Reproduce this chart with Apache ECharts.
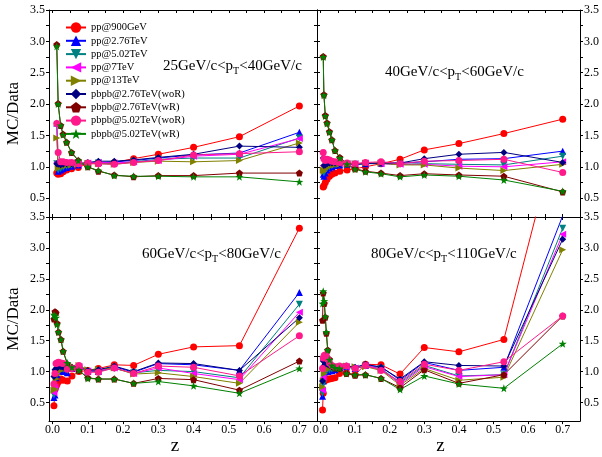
<!DOCTYPE html>
<html>
<head>
<meta charset="utf-8">
<script src="https://cdn.jsdelivr.net/npm/echarts@6/dist/echarts.min.js"></script>
<style>
html, body { margin: 0; padding: 0; background: #fff; }
#main { width: 602px; height: 457px; }
</style>
</head>
<body>
<div id="main"></div>
<script>
// series names, in the legend's order
var seriesNames = ['pp@900GeV', 'pp@2.76TeV', 'pp@5.02TeV', 'pp@7TeV', 'pp@13TeV',
  'pbpb@2.76TeV(woR)', 'pbpb@2.76TeV(wR)', 'pbpb@5.02TeV(woR)', 'pbpb@5.02TeV(wR)'];

// panel labels
var panelLabels = ['25GeV/c<p{t|T}<40GeV/c', '40GeV/c<p{t|T}<60GeV/c',
  '60GeV/c<p{t|T}<80GeV/c', '80GeV/c<p{t|T}<110GeV/c'];

// tick labels
var xLabels = [0, 0.1, 0.2, 0.3, 0.4, 0.5, 0.6, 0.7];
var yLabels = [0.5, 1.0, 1.5, 2.0, 2.5, 3.0, 3.5];

// z values of each panel
var zTL = [0.012, 0.016, 0.023, 0.03, 0.04, 0.054, 0.073, 0.1, 0.13, 0.175, 0.23, 0.3, 0.4, 0.53, 0.7];
var zTR = [0.008, 0.01, 0.014, 0.019, 0.026, 0.033, 0.042, 0.056, 0.077, 0.1, 0.13, 0.175, 0.23, 0.3, 0.4, 0.53, 0.7];
var zBL = [0.004, 0.007, 0.01, 0.013, 0.017, 0.024, 0.03, 0.042, 0.055, 0.075, 0.1, 0.13, 0.175, 0.23, 0.3, 0.4, 0.53, 0.7];
var zBR = [0.006, 0.008, 0.011, 0.014, 0.017, 0.021, 0.026, 0.033, 0.042, 0.055, 0.075, 0.1, 0.13, 0.175, 0.23, 0.3, 0.4, 0.53, 0.7];

// MC/Data, 25 < pT < 40 GeV/c (rows in seriesNames order)
var ratioTL = [
  [0.90, 0.88, 0.89, 0.92, 0.95, 0.97, 0.99, 1.05, 1.05, 1.07, 1.13, 1.20, 1.31, 1.48, 1.97],
  [1.70, 0.93, 0.95, 0.97, 0.99, 1.01, 1.03, 1.05, 1.07, 1.08, 1.10, 1.14, 1.19, 1.22, 1.55],
  [1.05, 0.95, 0.97, 0.99, 1.01, 1.03, 1.04, 1.05, 1.06, 1.05, 1.08, 1.12, 1.14, 1.14, 1.46],
  [1.07, 1.05, 1.06, 1.07, 1.07, 1.06, 1.05, 1.06, 1.07, 1.06, 1.08, 1.10, 1.17, 1.20, 1.45],
  [1.46, 0.98, 1.00, 1.01, 1.02, 1.03, 1.04, 1.05, 1.05, 1.04, 1.07, 1.09, 1.08, 1.10, 1.38],
  [1.05, 1.04, 1.03, 1.04, 1.05, 1.05, 1.05, 1.07, 1.09, 1.09, 1.11, 1.15, 1.20, 1.33, 1.31],
  [2.95, 2.01, 1.66, 1.52, 1.39, 1.23, 1.10, 1.00, 0.93, 0.87, 0.84, 0.86, 0.86, 0.90, 0.90],
  [1.69, 1.23, 1.08, 1.08, 1.07, 1.07, 1.05, 1.06, 1.05, 1.04, 1.07, 1.10, 1.19, 1.21, 1.24],
  [2.92, 2.00, 1.66, 1.51, 1.39, 1.23, 1.10, 1.00, 0.94, 0.86, 0.85, 0.85, 0.84, 0.84, 0.76]
];

// MC/Data, 40 < pT < 60 GeV/c
var ratioTR = [
  [0.68, 0.70, 0.75, 0.80, 0.85, 0.88, 0.90, 0.93, 0.95, 0.97, 1.00, 1.05, 1.12, 1.27, 1.37, 1.53, 1.76],
  [0.88, 0.85, 0.90, 0.95, 0.98, 1.00, 1.02, 1.03, 1.04, 1.04, 1.05, 1.06, 1.06, 1.08, 1.12, 1.13, 1.25],
  [0.92, 0.90, 0.95, 0.98, 1.00, 1.02, 1.03, 1.04, 1.04, 1.04, 1.05, 1.05, 1.04, 1.05, 1.04, 1.03, 1.17],
  [1.02, 1.00, 1.03, 1.05, 1.07, 1.06, 1.05, 1.05, 1.05, 1.05, 1.06, 1.05, 1.04, 1.04, 1.01, 1.00, 1.08],
  [0.95, 0.93, 0.96, 0.99, 1.01, 1.02, 1.03, 1.04, 1.05, 1.05, 1.06, 1.06, 1.03, 1.03, 0.98, 0.94, 1.04],
  [1.14, 1.02, 1.03, 1.05, 1.06, 1.06, 1.06, 1.05, 1.05, 1.04, 1.05, 1.06, 1.06, 1.13, 1.20, 1.23, 1.07],
  [2.76, 2.15, 1.82, 1.70, 1.56, 1.43, 1.26, 1.15, 1.05, 0.97, 0.93, 0.90, 0.86, 0.89, 0.87, 0.85, 0.60],
  [1.23, 1.13, 1.10, 1.12, 1.11, 1.09, 1.08, 1.07, 1.06, 1.05, 1.07, 1.08, 1.05, 1.09, 1.10, 1.12, 0.91],
  [2.75, 2.14, 1.81, 1.69, 1.55, 1.43, 1.26, 1.14, 1.04, 0.96, 0.92, 0.89, 0.84, 0.87, 0.85, 0.79, 0.61]
];

// MC/Data, 60 < pT < 80 GeV/c
var ratioBL = [
  [0.45, 0.71, 0.76, 0.80, 0.84, 0.88, 0.86, 0.85, 0.93, 1.00, 1.02, 1.05, 1.11, 1.10, 1.28, 1.40, 1.42, 3.32],
  [0.58, 0.62, 0.90, 0.95, 1.00, 1.02, 1.00, 0.98, 1.05, 1.08, 1.00, 1.00, 1.08, 0.99, 1.13, 1.11, 1.02, 2.28],
  [0.62, 0.68, 0.92, 0.98, 1.02, 1.05, 1.04, 1.02, 1.05, 1.07, 1.00, 1.01, 1.05, 0.98, 1.02, 1.00, 0.90, 2.09],
  [0.66, 0.75, 1.00, 1.05, 1.08, 1.10, 1.08, 1.05, 1.06, 1.08, 1.01, 1.02, 1.06, 0.97, 1.06, 0.97, 0.87, 1.96],
  [0.70, 0.72, 0.88, 0.95, 1.00, 1.02, 1.05, 1.05, 1.06, 1.10, 1.03, 1.04, 1.06, 0.96, 0.98, 0.92, 0.81, 1.80],
  [0.92, 1.03, 1.05, 1.06, 1.08, 1.08, 1.07, 1.06, 1.06, 1.08, 1.02, 1.03, 1.09, 1.00, 1.14, 1.13, 1.02, 1.87],
  [1.85, 1.97, 1.95, 1.78, 1.64, 1.52, 1.33, 1.12, 1.07, 1.02, 0.90, 0.88, 0.88, 0.81, 0.89, 0.87, 0.70, 1.17],
  [0.80, 0.97, 1.13, 1.14, 1.15, 1.14, 1.13, 1.04, 1.05, 1.10, 0.99, 0.99, 1.06, 0.97, 1.09, 1.07, 0.93, 1.58],
  [1.92, 1.90, 1.87, 1.76, 1.64, 1.52, 1.33, 1.14, 1.07, 1.02, 0.89, 0.88, 0.88, 0.81, 0.84, 0.77, 0.65, 1.05]
];

// MC/Data, 80 < pT < 110 GeV/c
var ratioBR = [
  [0.38, 0.65, 0.85, 0.86, 0.87, 0.88, 0.88, 0.89, 0.90, 0.97, 0.98, 0.95, 1.12, 1.11, 0.96, 1.39, 1.32, 1.52, 5.20],
  [0.60, 0.85, 0.98, 1.00, 1.00, 1.00, 1.01, 1.02, 1.03, 1.06, 1.08, 1.05, 1.10, 1.08, 0.86, 1.15, 1.02, 1.07, 3.52],
  [0.65, 0.80, 0.95, 1.00, 1.02, 1.03, 1.03, 1.04, 1.05, 1.07, 1.07, 1.05, 1.09, 1.05, 0.82, 1.10, 0.93, 0.95, 3.32],
  [0.70, 0.90, 1.05, 1.10, 1.12, 1.10, 1.08, 1.07, 1.06, 1.08, 1.08, 1.06, 1.10, 1.04, 0.80, 1.08, 0.92, 0.95, 3.22],
  [0.75, 0.85, 0.97, 1.02, 1.05, 1.06, 1.07, 1.07, 1.07, 1.08, 1.09, 1.08, 1.08, 1.02, 0.78, 1.05, 0.86, 0.91, 2.97],
  [0.85, 1.17, 1.10, 1.12, 1.13, 1.12, 1.10, 1.08, 1.07, 1.08, 1.09, 1.07, 1.12, 1.07, 0.88, 1.16, 1.10, 1.09, 3.14],
  [1.83, 2.27, 2.10, 1.88, 1.62, 1.35, 1.20, 1.10, 1.06, 1.05, 0.97, 0.94, 0.95, 0.89, 0.74, 1.03, 0.81, 0.95, 1.90],
  [1.05, 1.22, 1.26, 1.27, 1.25, 1.20, 1.14, 1.10, 1.08, 1.09, 1.09, 1.05, 1.10, 1.02, 0.84, 1.12, 1.02, 1.16, 1.90],
  [2.10, 2.30, 2.14, 1.89, 1.64, 1.35, 1.19, 1.10, 1.06, 1.05, 0.97, 0.95, 0.95, 0.89, 0.71, 0.93, 0.80, 0.73, 1.45]
];

var panels = [
  { z: zTL, v: ratioTL },
  { z: zTR, v: ratioTR },
  { z: zBL, v: ratioBL },
  { z: zBR, v: ratioBR }
];

var FONT = 'Liberation Serif';
var colors = ['#ff0000', '#0000ff', '#008080', '#ff00ff', '#808000', '#000080', '#800000', '#ff1a8c', '#008000'];
var pentagon = 'path://M0,-10L9.5,-3.1L5.9,8.1L-5.9,8.1L-9.5,-3.1Z';
var star = 'path://M0,-10L2.35,-3.24L9.51,-3.09L3.8,1.24L5.88,8.09L0,4L-5.88,8.09L-3.8,1.24L-9.51,-3.09L-2.35,-3.24Z';
var symbols = ['circle', 'triangle', 'triangle', 'triangle', 'triangle', 'diamond', pentagon, 'circle', star];
var rotations = [0, 0, 180, 90, -90, 0, 0, 0, 0];
var sizes = [7, 7, 7, 7, 7, 7, 7, 7, 8];

var gridPos = [
  { left: 49, top: 10, width: 268, height: 207 },
  { left: 317, top: 10, width: 268, height: 207 },
  { left: 49, top: 217, width: 268, height: 206 },
  { left: 317, top: 217, width: 268, height: 206 }
];
var titlePos = [[163, 56], [385, 62], [142, 244], [371, 244]];

var xTicks = [];
for (var t = 0; t <= 14; t++) xTicks.push(t * 0.05);
var yTicks = [];
for (var t = 1; t <= 13; t++) yTicks.push(0.25 + t * 0.25);

var myChart = echarts.init(document.getElementById('main'));
var grid = [], xAxis = [], yAxis = [], series = [], title = [];

for (var g = 0; g < 4; g++) {
  grid.push(gridPos[g]);
  var bottomRow = g >= 2, leftCol = g % 2 === 0;
  ['bottom', 'top'].forEach(function (pos) {
    var lab = bottomRow && pos === 'bottom';
    xAxis.push({
      type: 'value', gridIndex: g, position: pos, min: -0.01, max: 0.75,
      name: lab ? 'z' : '', nameLocation: 'middle', nameGap: 13,
      nameTextStyle: { fontFamily: FONT, fontSize: 19, color: '#000', padding: [0, 16, 0, 0] },
      axisLine: { show: true, onZero: false, lineStyle: { color: '#000', width: 1 } },
      axisTick: { show: true, inside: !lab, length: 3, customValues: xTicks, lineStyle: { color: '#000' } },
      axisLabel: { show: lab, customValues: xLabels, margin: 3, fontFamily: FONT, fontSize: 12, color: '#000',
        formatter: function (v) { return v.toFixed(1); } },
      splitLine: { show: false }
    });
  });
  [leftCol ? 'left' : 'right', leftCol ? 'right' : 'left'].forEach(function (pos, k) {
    var lab = k === 0;
    yAxis.push({
      type: 'value', gridIndex: g, position: pos, min: 0.2, max: 3.5,
      name: lab && leftCol ? 'MC/Data' : '', nameLocation: 'middle', nameGap: 27,
      nameTextStyle: { fontFamily: FONT, fontSize: 17, color: '#000' },
      axisLine: { show: true, onZero: false, lineStyle: { color: '#000', width: 1 } },
      axisTick: { show: true, inside: !lab, length: 3, customValues: yTicks, lineStyle: { color: '#000' } },
      axisLabel: { show: lab, customValues: yLabels, margin: 4, fontFamily: FONT, fontSize: 12, color: '#000',
        formatter: function (v) { return v.toFixed(1); } },
      splitLine: { show: false }
    });
  });
  title.push({
    text: panelLabels[g], left: titlePos[g][0], top: titlePos[g][1], padding: 0,
    textStyle: { fontFamily: FONT, fontSize: 15, fontWeight: 'normal', color: '#000',
      rich: { t: { fontFamily: FONT, fontSize: 10, padding: [10, 0, 0, 0], color: '#000' } } }
  });
  for (var s = 0; s < seriesNames.length; s++) {
    var zs = panels[g].z, vs = panels[g].v[s];
    series.push({
      type: 'line', name: seriesNames[s], xAxisIndex: 2 * g, yAxisIndex: 2 * g,
      data: zs.map(function (z, k) { return [z, vs[k]]; }),
      symbol: symbols[s], symbolRotate: rotations[s], symbolSize: sizes[s],
      showAllSymbol: true, clip: true, animation: false,
      lineStyle: { color: colors[s], width: 1 },
      itemStyle: { color: colors[s], borderWidth: 0 }
    });
  }
}

option = {
  backgroundColor: '#fff',
  animation: false,
  title: title,
  legend: {
    data: seriesNames, orient: 'vertical', left: 65, top: 22,
    itemWidth: 20, itemHeight: 13, itemGap: 2.3, padding: 0,
    lineStyle: { width: 2 },
    textStyle: { fontFamily: FONT, fontSize: 10.5, color: '#000' }
  },
  grid: grid,
  xAxis: xAxis,
  yAxis: yAxis,
  series: series
};
myChart.setOption(option);
</script>
</body>
</html>
